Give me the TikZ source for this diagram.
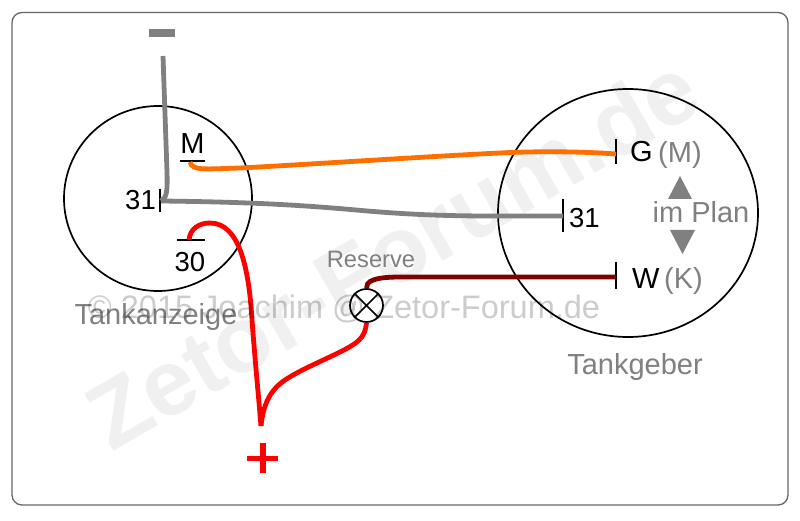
\documentclass[tikz,border=0pt]{standalone}
\usepackage{fontspec}
\usetikzlibrary{shapes.geometric}
\setmainfont{Liberation Sans}
\definecolor{wgray}{HTML}{808080}
\definecolor{orng}{HTML}{FF6F00}
\definecolor{dred}{HTML}{800000}
\tikzset{
  wire/.style={line width=4.8pt,line cap=butt},
  term/.style={line width=2pt,black},
  ring/.style={draw=black,line width=1.7pt,ellipse,inner sep=0pt},
  lbl/.style={inner sep=0pt,text=black,font=\fontsize{29}{31}\selectfont},
  num/.style={inner sep=0pt,text=black,font=\fontsize{27.5}{30}\selectfont},
  glbl/.style={inner sep=0pt,text=wgray,font=\fontsize{29}{31}\selectfont},
}
\begin{document}
\begin{tikzpicture}[x=1pt,y=-1pt]
\useasboundingbox (0,0) rectangle (800,521);
\fill[white] (0,0) rectangle (800,521);
\draw[draw=wgray!80!black,line width=1.3pt,rounded corners=10pt] (12,12.5) rectangle (788,505);
% watermark
\node[rotate=30,inner sep=0pt,text=black!6,font=\bfseries\fontsize{93}{93}\selectfont] (wm) at (392,252) {Zetor-Forum.de};
% circles
\node[ring,minimum width=188pt,minimum height=185pt] (anz) at (158,198.5) {};
\node[ring,minimum width=260pt,minimum height=248pt] (geb) at (628,213) {};
\node[ring,minimum width=33pt,minimum height=33pt] (lamp) at (366.5,305.5) {};
\draw[line width=1.6pt] (lamp.north west)--(lamp.south east) (lamp.north east)--(lamp.south west);
% terminals
\coordinate (mt1) at (180,160.7); \coordinate (mt2) at (205,160.7);
\draw[term] (mt1)--(mt2);
\coordinate (t30a) at (177,240.5); \coordinate (t30b) at (205,240.5);
\draw[term] (t30a)--(t30b);
\coordinate (t31a) at (160,189); \coordinate (t31b) at (160,212);
\draw[term] (t31a)--(t31b);
\coordinate (ga) at (616,139); \coordinate (gb) at (616,164);
\draw[term] (ga)--(gb);
\coordinate (sa) at (563,199); \coordinate (sb) at (563,232);
\draw[term] (sa)--(sb);
\coordinate (wa) at (616,262); \coordinate (wb) at (616,289);
\draw[term] (wa)--(wb);
% wires
\coordinate (minus) at (163,56);
\coordinate (jn) at (161,201);
\coordinate (g31) at (563,216);
\coordinate (gG) at (616,154);
\coordinate (gW) at (616,277);
\coordinate (m0) at (190,162);
\coordinate (r30) at (189,240);
\coordinate (plus) at (261,426);
\draw[wire,wgray,line join=round] (minus) -- (167,172) .. controls (167.5,190) and (167,198) .. (jn);
\draw[wire,wgray] (jn) .. controls (250,202) and (300,205) .. (356,210) .. controls (400,214) and (440,216) .. (490,216) -- (g31);
\draw[wire,orng] (m0) .. controls (192,171) and (205,169) .. (240,168) .. controls (300,165) and (450,155) .. (511,152.5) .. controls (550,151) and (590,152) .. (gG);
\draw[wire,red] (r30) .. controls (190,228) and (200,223) .. (210,223) .. controls (240,223) and (249,270) .. (252,320) .. controls (255,360) and (258,390) .. (plus);
\draw[wire,red] (plus) .. controls (263,405) and (270,390) .. (285,380) .. controls (300,370) and (320,362) .. (340,352) .. controls (358,343) and (365,338) .. (lamp.south);
\draw[wire,dred] (lamp.north) .. controls (366,282) and (372,277) .. (400,277) -- (gW);
% symbols
\fill[wgray] (149,29) rectangle (175,37);
\draw[red,line width=5pt] (247,458)--(278,458);
\draw[red,line width=6pt] (262.5,443)--(262.5,473);
\fill[wgray] (680,176) -- (692,199) -- (668,199) -- cycle;
\fill[wgray] (682.5,254) -- (695,230) -- (670,230) -- cycle;
% labels
\node[lbl,anchor=base] (lm) at (192.5,154) {M};
\node[num,anchor=base] (l30) at (190,272) {30};
\node[num,anchor=base east] (l31) at (156,210) {31};
\node[num,anchor=base west] (l31b) at (569,228) {31};
\node[lbl,anchor=base west] (lg) at (630,162) {G};
\node[glbl,anchor=base west] (lgm) at (658,163) {(M)};
\node[lbl,anchor=base west] (lw) at (632,288) {W};
\node[glbl,anchor=base west] (lwk) at (664,288) {(K)};
\node[glbl,anchor=base] (plan) at (701,223) {im Plan};
\node[glbl,anchor=base] (tg) at (635,374) {Tankgeber};
\node[glbl,anchor=base] (ta) at (156,324) {Tankanzeige};
\node[anchor=base,inner sep=0pt,text=wgray,font=\fontsize{23.7}{25}\selectfont] (res) at (371,268) {Reserve};
\node[anchor=base,inner sep=0pt,text=black,opacity=.2,font=\fontsize{32.5}{34}\selectfont] (copy) at (344,318) {© 2015 Joachim @ Zetor-Forum.de};
\end{tikzpicture}
\end{document}
